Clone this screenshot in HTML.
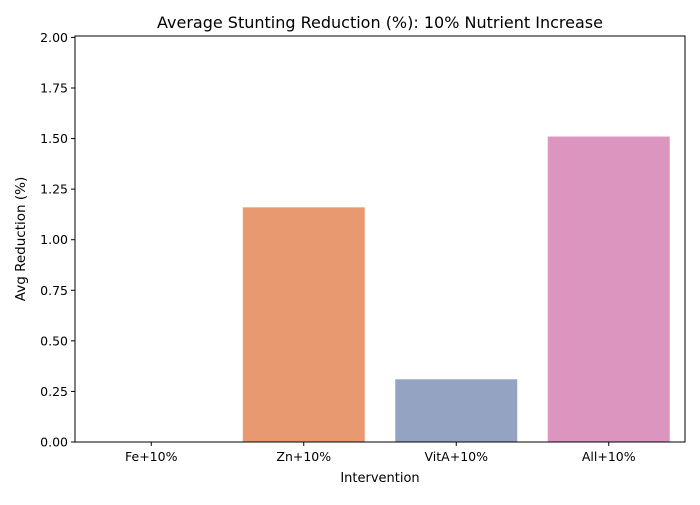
<!DOCTYPE html>
<html><head><meta charset="utf-8"><style>
body{margin:0;background:#fff;font-family:"Liberation Sans","DejaVu Sans",sans-serif;}
svg text{font-family:"DejaVu Sans","Liberation Sans",sans-serif;}
</style></head><body>
<svg id="chart" width="700" height="500">
<text x="380" y="28" font-size="16" text-anchor="middle">Average Stunting Reduction (%): 10% Nutrient Increase</text>
<text x="380" y="482" font-size="13" text-anchor="middle">Intervention</text>
<text x="25" y="239" font-size="13.5" text-anchor="middle" transform="rotate(-90 25 239)">Avg Reduction (%)</text>
<g id="bars"></g><g id="axes"></g>
</svg>
<script>
const categories = ["Fe+10%","Zn+10%","VitA+10%","All+10%"];
const values = [0.0, 1.16, 0.31, 1.51];
const colors = ["#7fc6ae","#e9996f","#95a3c3","#dc95bf"];
const yTicks = [0,0.25,0.5,0.75,1.0,1.25,1.5,1.75,2.0];
const L=75,R=685,T=36,B=442,ymax=2.007;
const ns="http://www.w3.org/2000/svg";
const y=v=>B-(v/ymax)*(B-T);
const band=(R-L)/categories.length;
const x=i=>L+band*(i+0.5);
const bars=document.getElementById('bars'),axes=document.getElementById('axes');
function mk(tag,attrs,parent){const e=document.createElementNS(ns,tag);for(const k in attrs)e.setAttribute(k,attrs[k]);parent.appendChild(e);return e;}
categories.forEach((c,i)=>{
  const w=band*0.8;
  const r=mk('rect',{x:x(i)-w/2,y:y(values[i]),width:w,height:B-y(values[i]),fill:colors[i]},bars);
  
  
  mk('line',{x1:x(i),x2:x(i),y1:B,y2:B+4,stroke:'#000'},axes);
  const t=mk('text',{x:x(i),y:B+19,'font-size':12.5,'text-anchor':'middle'},axes);
  t.textContent=c;
  
  
});
yTicks.forEach(v=>{
  mk('line',{x1:L-4,x2:L,y1:y(v),y2:y(v),stroke:'#000'},axes);
  const t=mk('text',{x:L-7,y:y(v)+4.5,'font-size':12.5,'text-anchor':'end'},axes);
  t.textContent=v.toFixed(2);
  
  
});
const f=mk('rect',{x:L,y:T,width:R-L,height:B-T,fill:'none',stroke:'#000','stroke-width':1},axes);


</script>
</body></html>
